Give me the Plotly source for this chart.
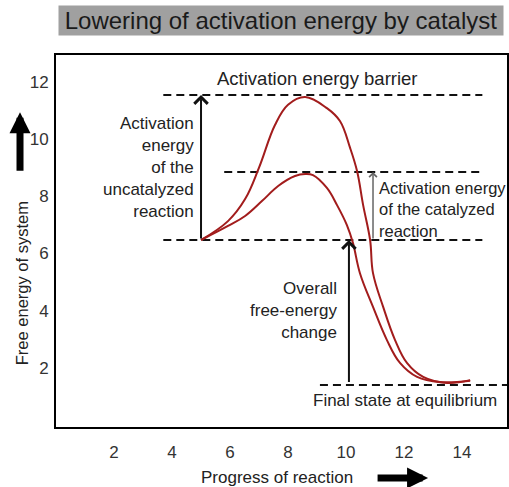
import plotly.graph_objects as go

# ---- data ----
uncat_x = [5.0, 5.93, 6.52, 7.0, 7.55, 8.0, 8.59, 9.34, 9.79, 10.14, 10.38, 10.59, 10.83, 10.93, 11.28, 11.69, 12.1, 12.66, 13.48, 14.28]
uncat_y = [6.47, 7.13, 7.9, 9.0, 10.49, 11.2, 11.47, 11.08, 10.63, 9.69, 8.88, 7.69, 6.47, 5.31, 4.13, 2.97, 2.17, 1.68, 1.47, 1.57]

cat_x = [5.0, 5.93, 6.52, 7.1, 7.66, 8.24, 8.59, 8.86, 9.34, 9.69, 10.03, 10.24, 10.48, 10.93, 11.41, 11.86, 12.45, 13.24, 14.28]
cat_y = [6.47, 6.96, 7.31, 7.83, 8.36, 8.71, 8.78, 8.74, 8.29, 7.69, 6.99, 6.36, 5.31, 4.13, 2.97, 2.17, 1.68, 1.5, 1.55]

level_y = [11.54, 8.85, 6.47, 1.40]
level_x0 = [3.7, 5.8, 3.7, 9.1]
level_x1 = [14.7, 14.7, 14.7, 15.55]

x_ticks = [2, 4, 6, 8, 10, 12, 14]
y_ticks = [2, 4, 6, 8, 10, 12]

title_text = "Lowering of activation energy by catalyst"
x_title = "Progress of reaction"
y_title = "Free energy of system"

FONT = "Liberation Sans, Arial, sans-serif"
CURVE = "#a21c1c"

fig = go.Figure()

for y, x0, x1 in zip(level_y, level_x0, level_x1):
    fig.add_trace(go.Scatter(x=[x0, x1], y=[y, y], mode="lines",
                             line=dict(color="#111", width=2, dash="8px,5px"),
                             hoverinfo="skip", showlegend=False))

fig.add_trace(go.Scatter(x=uncat_x, y=uncat_y, mode="lines",
                         line=dict(color=CURVE, width=2, shape="spline", smoothing=1.1),
                         showlegend=False))
fig.add_trace(go.Scatter(x=cat_x, y=cat_y, mode="lines",
                         line=dict(color=CURVE, width=2, shape="spline", smoothing=1.1),
                         showlegend=False))

# vertical arrows (data coordinates)
fig.add_annotation(x=uncat_x[0], y=level_y[0], ax=uncat_x[0], ay=level_y[2],
                   xref="x", yref="y", axref="x", ayref="y", text="",
                   showarrow=True, arrowhead=4, arrowsize=1.3, arrowwidth=2, arrowcolor="#111")
fig.add_annotation(x=10.1, y=level_y[2], ax=10.1, ay=level_y[3] + 0.05,
                   xref="x", yref="y", axref="x", ayref="y", text="",
                   showarrow=True, arrowhead=4, arrowsize=1.3, arrowwidth=2, arrowcolor="#111")
fig.add_annotation(x=10.93, y=level_y[1], ax=10.93, ay=level_y[2],
                   xref="x", yref="y", axref="x", ayref="y", text="",
                   showarrow=True, arrowhead=4, arrowsize=1.0, arrowwidth=1.5, arrowcolor="#666")

txt = dict(color="#222", family=FONT)
fig.add_annotation(x=9.03, y=12.13, text="Activation energy barrier", showarrow=False,
                   font=dict(size=18.5, **txt))
fig.add_annotation(x=4.83, y=8.99, xanchor="right", align="right", showarrow=False,
                   text="Activation<br>energy<br>of the<br>uncatalyzed<br>reaction",
                   font=dict(size=17, **txt))
fig.add_annotation(x=11.07, y=7.52, xanchor="left", align="left", showarrow=False,
                   text="Activation energy<br>of the catalyzed<br>reaction",
                   font=dict(size=16.5, **txt))
fig.add_annotation(x=9.76, y=4.02, xanchor="right", align="right", showarrow=False,
                   text="Overall<br>free-energy<br>change",
                   font=dict(size=17, **txt))
fig.add_annotation(x=12.03, y=0.87, showarrow=False, text="Final state at equilibrium",
                   font=dict(size=17, **txt))

# title box
fig.add_annotation(xref="paper", yref="paper", x=0.499, y=1.094, xanchor="center",
                   yanchor="middle", showarrow=False,
                   text=title_text, font=dict(size=24, color="#1a1a1a", family=FONT),
                   bgcolor="#a0a0a0", width=442, height=27)

# axis titles and decorative arrows
fig.add_annotation(xref="paper", yref="paper", x=-0.075, y=0.387, xanchor="center",
                   yanchor="middle", showarrow=False,
                   text=y_title, textangle=-90, font=dict(size=16.5, **txt))
fig.add_annotation(xref="paper", yref="paper", x=0.49, y=-0.137, xanchor="center",
                   yanchor="middle", showarrow=False,
                   text=x_title, font=dict(size=17, **txt))
fig.add_annotation(xref="paper", yref="paper", x=-0.0798, y=0.846, ax=0, ay=60,
                   text="", showarrow=True, arrowhead=2, arrowsize=0.6, arrowwidth=7,
                   arrowcolor="#000")
fig.add_annotation(xref="paper", yref="paper", x=0.825, y=-0.137, ax=-52, ay=0,
                   text="", showarrow=True, arrowhead=2, arrowsize=0.6, arrowwidth=7,
                   arrowcolor="#000")

fig.update_xaxes(range=[0, 15.55], tickvals=x_ticks, showgrid=False, zeroline=False,
                 showline=True, linecolor="#000", linewidth=2, mirror=True, ticks="",
                 automargin=False,
                 ticklabelstandoff=9, tickfont=dict(size=17, color="#333", family=FONT))
fig.update_yaxes(range=[-0.07, 12.94], tickvals=y_ticks, showgrid=False, zeroline=False,
                 showline=True, linecolor="#000", linewidth=2, mirror=True, ticks="",
                 automargin=False,
                 ticklabelstandoff=2, tickfont=dict(size=17, color="#333", family=FONT))

fig.update_layout(width=509, height=487, margin=dict(l=56, r=2, t=55, b=60, autoexpand=False),
                  paper_bgcolor="white", plot_bgcolor="white", showlegend=False)

fig.write_html("out.html", config={"displayModeBar": False},
               post_script="document.body.style.margin='0';document.body.style.overflow='hidden';")
